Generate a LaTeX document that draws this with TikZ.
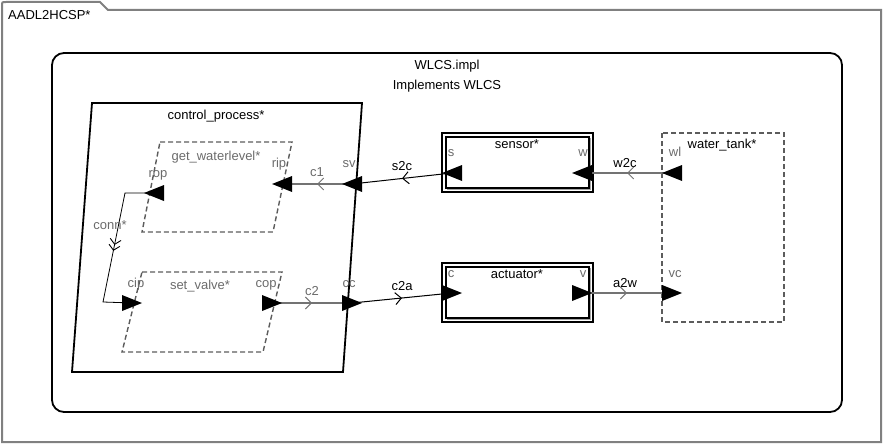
\documentclass[tikz,border=0pt]{standalone}
\usepackage{fontspec}
\setmainfont{Liberation Sans}
\usetikzlibrary{arrows.meta,decorations.markings}
\definecolor{labgray}{gray}{0.42}
\definecolor{framegray}{gray}{0.5}
\definecolor{dashgray}{gray}{0.36}
\definecolor{conngray}{gray}{0.45}
\newcommand\portLeft[1]{\fill[black] (#1) +(-10,0) -- +(10,-8) -- +(10,8) -- cycle;}
\newcommand\portRight[1]{\fill[black] (#1) +(10,0) -- +(-10,-8) -- +(-10,8) -- cycle;}
\newcommand\compBox[4]{%
  \draw[line width=2pt] (#1,#2) rectangle (#3,#4);
  \draw[gray!70, line width=2.2pt] (#1+5,#4-3) -- (#3-3,#4-3) -- (#3-3,#2+5);
  \draw[line width=1.3pt] (#1+4,#2+4) rectangle (#3-4,#4-4);}
\begin{document}
\begin{tikzpicture}[x=1pt,y=-1pt,
  every node/.style={font=\fontsize{13}{15}\selectfont, inner sep=0pt},
  lbl/.style={anchor=base, text=black},
  plbl/.style={anchor=base, text=labgray},
  bigline/.style={line width=1.8pt, line join=miter},
  dashbox/.style={draw=dashgray, line width=1.4pt, dash pattern=on 5pt off 3pt},
  midarrow/.style={postaction={decorate}, decoration={markings,
     mark=at position 0.5 with {\arrow[line width=1pt]{Straight Barb[length=6pt,width=12pt]}}}},
  dblarrow/.style={postaction={decorate}, decoration={markings,
     mark=at position 0.52 with {\arrow[line width=0.9pt]{Straight Barb[length=5pt,width=11pt]Straight Barb[length=5pt,width=11pt]}}}},
  grayconn/.style={draw=conngray, line width=1.3pt, midarrow},
  blackconn/.style={draw=black, line width=1pt, midarrow}
]
\useasboundingbox (0,0) rectangle (884,444);

% outer frame with tab
\draw[framegray, line width=2pt, line join=miter]
  (2,442) -- (2,6) .. controls (2,2) .. (6,2) -- (100,2) -- (108,10) -- (881,10) -- (881,442) -- cycle;
\node[anchor=base west] (frame) at (8,20) {AADL2HCSP*};

% implementation box
\draw[line width=1.8pt, rounded corners=12pt] (52,53) rectangle (842,412);
\node[lbl] (impl) at (447,70) {WLCS.impl};
\node[lbl] (impls) at (447,90) {Implements WLCS};

% control_process
\draw[bigline] (92,103) -- (362,103) -- (343,372) -- (72,372) -- cycle;
\node[lbl] (cp) at (216,120) {control\_process*};

% get_waterlevel
\draw[dashbox] (160,142) -- (292,142) -- (273,232) -- (142,232) -- cycle;
\node[plbl] (gw) at (216,160) {get\_waterlevel*};

% set_valve
\draw[dashbox] (142,272) -- (282,272) -- (263,352) -- (122,352) -- cycle;
\node[plbl] (sval) at (200,289) {set\_valve*};

% sensor, actuator
\compBox{442}{133}{593}{192}
\node[lbl] (sensor) at (517,148) {sensor*};
\compBox{442}{263}{593}{322}
\node[lbl] (actuator) at (517,278) {actuator*};

% water_tank
\draw[dashbox] (662,133) rectangle (784,322);
\node[lbl] (tank) at (722,148) {water\_tank*};

% port coordinates
\coordinate (rop) at (154,193);
\coordinate (rip) at (282,184);
\coordinate (sv) at (352,184);
\coordinate (cip) at (132,303);
\coordinate (cop) at (272,303);
\coordinate (cc) at (352,303);
\coordinate (s) at (452,173);
\coordinate (w) at (582,173);
\coordinate (wl) at (672,173);
\coordinate (c) at (452,293);
\coordinate (v) at (582,293);
\coordinate (vc) at (672,293);
\coordinate (connA) at (125,193);
\coordinate (connB) at (103,302);

% connectors
\draw[grayconn] (sv) -- (rip);
\draw[blackconn] (s) -- (sv);
\draw[grayconn] (wl) -- (w);
\draw[grayconn] (cop) -- (cc);
\draw[blackconn] (cc) -- (c);
\draw[grayconn] (v) -- (vc);
\draw[black, line width=0.8pt, dblarrow] (rop) -- (connA) -- (connB) -- (cip);

% ports
\portLeft{rop}
\portLeft{rip}
\portLeft{sv}
\portRight{cip}
\portRight{cop}
\portRight{cc}
\portLeft{s}
\portLeft{w}
\portLeft{wl}
\portRight{c}
\portRight{v}
\portRight{vc}

% port labels
\node[plbl] (lrop) at (158,177) {rop};
\node[plbl] (lrip) at (279,167) {rip};
\node[plbl] (lsv) at (349,167) {sv};
\node[plbl] (lcip) at (136,287) {cip};
\node[plbl] (lcop) at (266,287) {cop};
\node[plbl] (lcc) at (349,287) {cc};
\node[plbl] (ls) at (451,156) {s};
\node[plbl] (lw) at (583,156) {w};
\node[plbl] (lwl) at (675,156) {wl};
\node[plbl] (lc) at (451,277) {c};
\node[plbl] (lv) at (583,277) {v};
\node[plbl] (lvc) at (675,277) {vc};

% connector labels
\node[plbl] (lc1) at (317,176) {c1};
\node[plbl] (lc2) at (312,295) {c2};
\node[plbl] (lconn) at (110,229) {conn*};
\node[lbl] (ls2c) at (402,170) {s2c};
\node[lbl] (lc2a) at (402,290) {c2a};
\node[lbl] (lw2c) at (625,167) {w2c};
\node[lbl] (la2w) at (625,287) {a2w};
\end{tikzpicture}
\end{document}
